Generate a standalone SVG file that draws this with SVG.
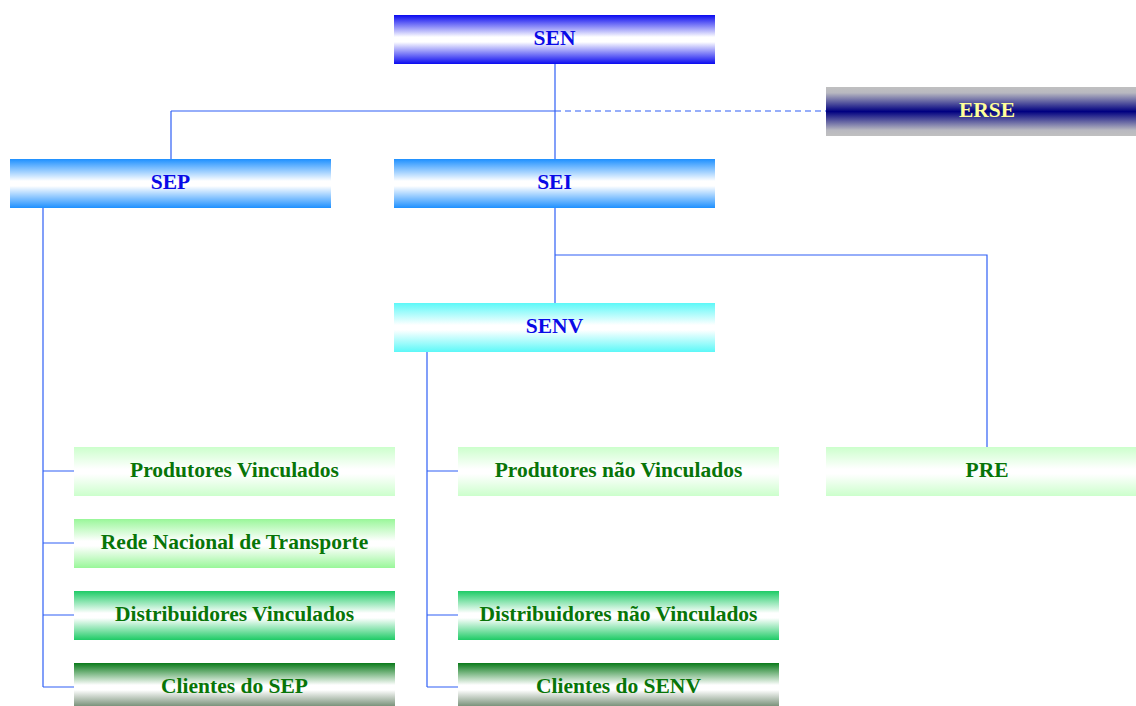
<svg xmlns="http://www.w3.org/2000/svg" width="1136" height="706" viewBox="0 0 1136 706">
<style>
text{font-family:"Liberation Serif","Times New Roman",serif;font-weight:bold;font-size:21.5px;text-anchor:middle}
.blue{fill:#0a0ae6}
.green{fill:#087508}
.erse{fill:#ffff99}
.conn{stroke:#2f5ff5;stroke-width:1.2;fill:none}
.dash{stroke-dasharray:6 4}
</style>
<defs>
<linearGradient id="gSEN" x1="0" y1="0" x2="0" y2="1">
<stop offset="0" stop-color="#0a0af0"/><stop offset="0.45" stop-color="#ffffff"/><stop offset="0.55" stop-color="#ffffff"/><stop offset="1" stop-color="#0a0af0"/>
</linearGradient>
<linearGradient id="gSEP" x1="0" y1="0" x2="0" y2="1">
<stop offset="0" stop-color="#1e90ff"/><stop offset="0.45" stop-color="#ffffff"/><stop offset="0.55" stop-color="#ffffff"/><stop offset="1" stop-color="#1e90ff"/>
</linearGradient>
<linearGradient id="gSENV" x1="0" y1="0" x2="0" y2="1">
<stop offset="0" stop-color="#5cf8f8"/><stop offset="0.45" stop-color="#ffffff"/><stop offset="0.55" stop-color="#ffffff"/><stop offset="1" stop-color="#5cf8f8"/>
</linearGradient>
<linearGradient id="gERSE" x1="0" y1="0" x2="0" y2="1">
<stop offset="0" stop-color="#c0c0c0"/><stop offset="0.12" stop-color="#b8b8c0"/><stop offset="0.5" stop-color="#000080"/><stop offset="0.88" stop-color="#b8b8c0"/><stop offset="1" stop-color="#c0c0c0"/>
</linearGradient>
<linearGradient id="gL1" x1="0" y1="0" x2="0" y2="1">
<stop offset="0" stop-color="#ccffcc"/><stop offset="0.45" stop-color="#ffffff"/><stop offset="0.55" stop-color="#ffffff"/><stop offset="1" stop-color="#ccffcc"/>
</linearGradient>
<linearGradient id="gL2" x1="0" y1="0" x2="0" y2="1">
<stop offset="0" stop-color="#99f799"/><stop offset="0.45" stop-color="#ffffff"/><stop offset="0.55" stop-color="#ffffff"/><stop offset="1" stop-color="#99f799"/>
</linearGradient>
<linearGradient id="gL3" x1="0" y1="0" x2="0" y2="1">
<stop offset="0" stop-color="#1ecb66"/><stop offset="0.45" stop-color="#ffffff"/><stop offset="0.55" stop-color="#ffffff"/><stop offset="1" stop-color="#1ecb66"/>
</linearGradient>
<linearGradient id="gL4" x1="0" y1="0" x2="0" y2="1">
<stop offset="0" stop-color="#0a7a1a"/><stop offset="0.45" stop-color="#ffffff"/><stop offset="0.55" stop-color="#ffffff"/><stop offset="1" stop-color="#4a6a4a"/>
</linearGradient>
</defs>
<g id="connectors">
<path class="conn" d="M555 64V159M171 111H555M171 111V159"/>
<path class="conn dash" d="M555 111H826"/>
<path class="conn" d="M43 208V687M43 471H74M43 543H74M43 615H74M43 687H74"/>
<path class="conn" d="M555 208V303M555 255H987V447"/>
<path class="conn" d="M427 352V687M427 471H458M427 615H458M427 687H458"/>
</g>
<g id="SEN"><rect x="394" y="15" width="321" height="49" fill="url(#gSEN)"/><text class="blue" x="554.5" y="45">SEN</text></g>
<g id="ERSE"><rect x="826" y="87" width="310" height="49" fill="url(#gERSE)"/><text class="erse" x="987" y="117">ERSE</text></g>
<g id="SEP"><rect x="10" y="159" width="321" height="49" fill="url(#gSEP)"/><text class="blue" x="170.5" y="189">SEP</text></g>
<g id="SEI"><rect x="394" y="159" width="321" height="49" fill="url(#gSEP)"/><text class="blue" x="554.5" y="189">SEI</text></g>
<g id="SENV"><rect x="394" y="303" width="321" height="49" fill="url(#gSENV)"/><text class="blue" x="554.5" y="333">SENV</text></g>
<g id="ProdutoresVinculados"><rect x="74" y="447" width="321" height="49" fill="url(#gL1)"/><text class="green" x="234.5" y="477">Produtores Vinculados</text></g>
<g id="RedeNacional"><rect x="74" y="519" width="321" height="49" fill="url(#gL2)"/><text class="green" x="234.5" y="549">Rede Nacional de Transporte</text></g>
<g id="DistribuidoresVinculados"><rect x="74" y="591" width="321" height="49" fill="url(#gL3)"/><text class="green" x="234.5" y="621">Distribuidores Vinculados</text></g>
<g id="ClientesSEP"><rect x="74" y="663" width="321" height="49" fill="url(#gL4)"/><text class="green" x="234.5" y="693">Clientes do SEP</text></g>
<g id="ProdutoresNaoVinculados"><rect x="458" y="447" width="321" height="49" fill="url(#gL1)"/><text class="green" x="618.5" y="477">Produtores não Vinculados</text></g>
<g id="DistribuidoresNaoVinculados"><rect x="458" y="591" width="321" height="49" fill="url(#gL3)"/><text class="green" x="618.5" y="621">Distribuidores não Vinculados</text></g>
<g id="ClientesSENV"><rect x="458" y="663" width="321" height="49" fill="url(#gL4)"/><text class="green" x="618.5" y="693">Clientes do SENV</text></g>
<g id="PRE"><rect x="826" y="447" width="310" height="49" fill="url(#gL1)"/><text class="green" x="987" y="477">PRE</text></g>
</svg>
